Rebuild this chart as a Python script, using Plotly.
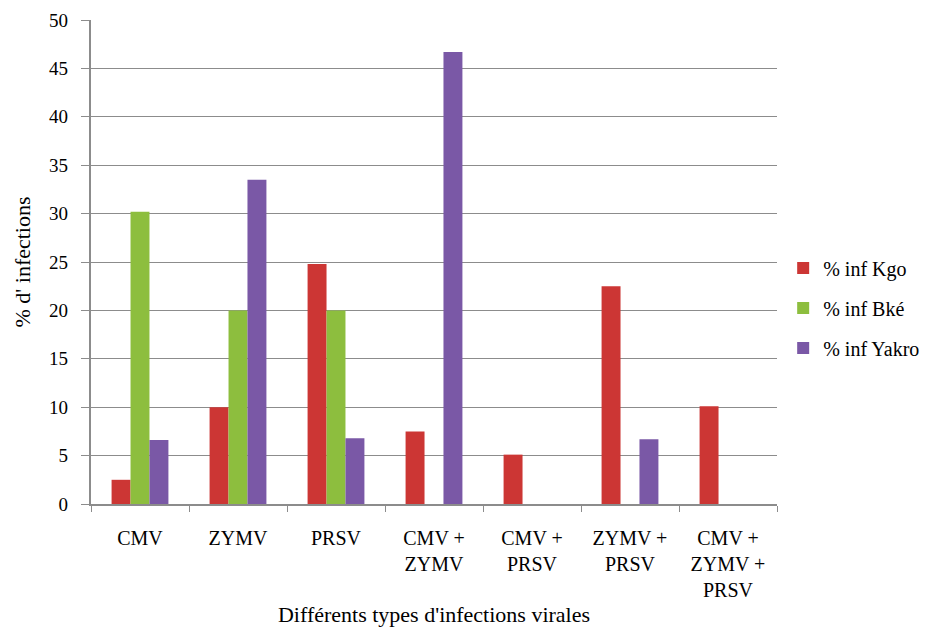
import plotly.graph_objects as go

categories = ["CMV", "ZYMV", "PRSV", "CMV +<br>ZYMV", "CMV +<br>PRSV", "ZYMV +<br>PRSV", "CMV +<br>ZYMV +<br>PRSV"]
kgo = [2.5, 10.0, 24.8, 7.5, 5.1, 22.5, 10.1]
bke = [30.2, 20.0, 20.0, 0, 0, 0, 0]
yakro = [6.6, 33.5, 6.8, 46.7, 0, 6.7, 0]
series_names = ["% inf Kgo", "% inf Bké", "% inf Yakro"]
colors = ["#CC3634", "#8DBE3E", "#7A58A6"]

font = "Liberation Serif"
fig = go.Figure()
for i, (name, vals, col) in enumerate(zip(series_names, [kgo, bke, yakro], colors)):
    fig.add_trace(go.Bar(x=categories, y=vals, name=name, marker_color=col,
                         marker_line_width=0, legendgroup=f"g{i}"))

fig.update_layout(
    width=932, height=627,
    margin=dict(l=83, r=163, t=12, b=131, autoexpand=False),
    paper_bgcolor="white", plot_bgcolor="white",
    barmode="group", bargap=0.42, bargroupgap=0,
    font=dict(family=font, size=20, color="black"),
    legend=dict(x=1.009, y=0.405, xanchor="left", yanchor="middle",
                font=dict(family=font, size=20), itemwidth=30,
                tracegroupgap=11, bgcolor="rgba(0,0,0,0)"),
    showlegend=True,
)
fig.update_yaxes(range=[0, 50], dtick=5, showgrid=True, gridcolor="#8c8c8c", gridwidth=1,
                 showline=True, linecolor="#8c8c8c", linewidth=1.5,
                 ticks="outside", ticklen=8, tickcolor="#8c8c8c",
                 tickfont=dict(family=font, size=19), ticksuffix="\u00a0\u00a0", automargin=False,
                 title=dict(text="% d' infections", font=dict(family=font, size=22), standoff=12),
                 zeroline=False)
fig.update_xaxes(showline=True, linecolor="#8c8c8c", linewidth=1.5,
                 ticks="outside", ticklen=6, tickcolor="#8c8c8c", tickson="boundaries",
                 tickfont=dict(family=font, size=20), ticklabelstandoff=15, automargin=False,
                 title=dict(text="Différents types d'infections virales", font=dict(family=font, size=22), standoff=7))

fig.write_html("out.html")
